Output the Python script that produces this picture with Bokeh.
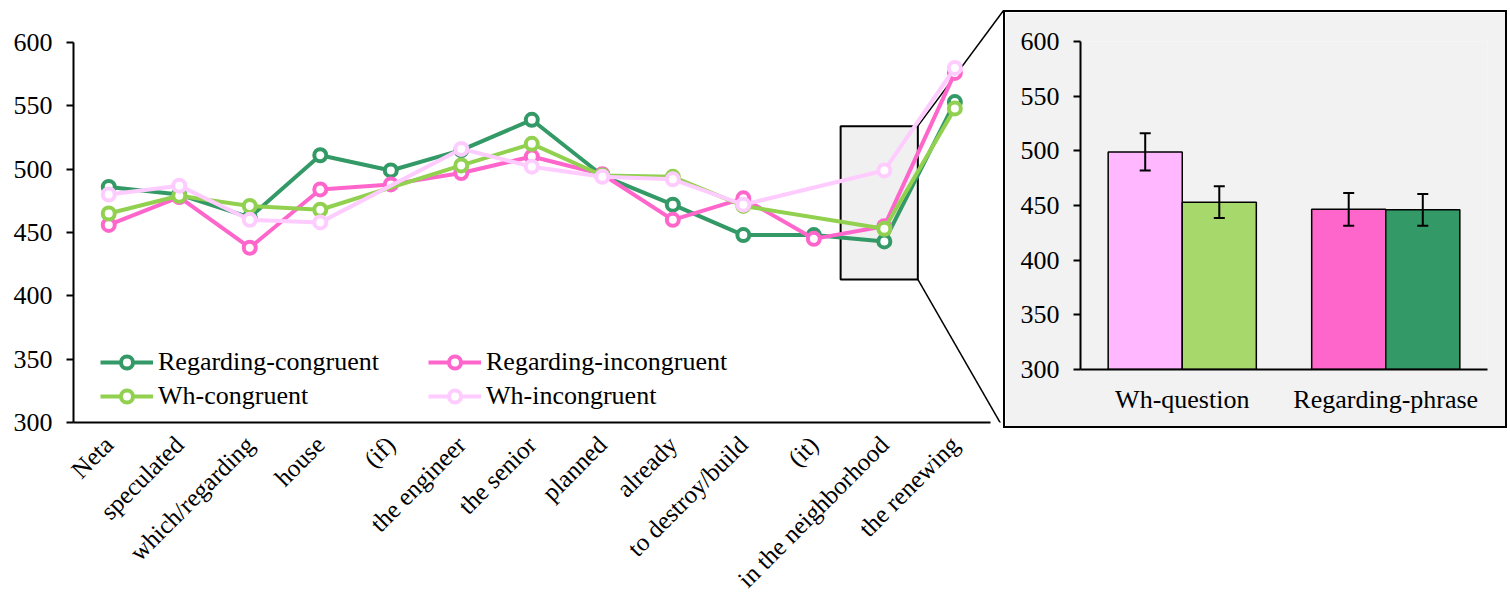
import math

from bokeh.embed import file_html
from bokeh.layouts import column, row
from bokeh.models import (ColumnDataSource, FactorRange, FixedTicker, Legend,
                          LegendItem, Range1d, Spacer, TeeHead, Whisker)
from bokeh.plotting import figure
from bokeh.resources import INLINE
from bokeh.transform import dodge

FONT = "Liberation Serif"

# ---- word-by-word reading times (ms) ----
words = ["Neta", "speculated", "which/regarding", "house", "(if)", "the engineer",
         "the senior", "planned", "already", "to destroy/build", "(it)",
         "in the neighborhood", "the renewing"]

regarding_congruent = [486, 480, 462, 511, 499, 515, 539, 495, 472, 448, 448, 443, 553]
regarding_incongruent = [456, 478, 438, 484, 488, 497, 510, 496, 460, 477, 445, 455, 576]
# Wh sentences have no "(if)" / "(it)" region
wh_congruent = [465, 479, 471, 468, None, 503, 520, 495, 494, 471, None, 453, 548]
wh_incongruent = [480, 487, 460, 458, None, 516, 502, 494, 492, 472, None, 499, 580]

series_names = ["Regarding-congruent", "Regarding-incongruent", "Wh-congruent", "Wh-incongruent"]
series_values = [regarding_congruent, regarding_incongruent, wh_congruent, wh_incongruent]
series_colors = ["#339966", "#ff66cc", "#92d050", "#ffccff"]

# ---- spillover region summary (inset) ----
groups = ["Wh-question", "Regarding-phrase"]
incongruent_mean = [499, 446.5]
incongruent_err = [17, 15]
congruent_mean = [453, 446]
congruent_err = [14.5, 14.5]
incongruent_colors = ["#ffb7ff", "#ff66cc"]
congruent_colors = ["#a6d86c", "#339966"]

# highlighted region in the main panel
zoom_word = "in the neighborhood"
zoom_lo, zoom_hi = 413, 534

# ---------------- main line chart ----------------
X_END = 12.69
Y_TOP = 633.2
main = figure(frame_width=930, frame_height=422,
              x_range=Range1d(-0.5, X_END), y_range=Range1d(300, Y_TOP),
              min_border_left=73, min_border_right=0, min_border_top=0,
              min_border_bottom=170, output_backend="svg", toolbar_location=None)
main.grid.visible = False
main.outline_line_color = None
main.background_fill_color = "white"

zi = words.index(zoom_word)
main.quad(left=zi - 0.62, right=zi + 0.475, bottom=zoom_lo, top=zoom_hi,
          fill_color="#f0f0f0", line_color="black", line_width=2)
# connectors towards the inset
main.segment(x0=[zi + 0.475, zi + 0.475], y0=[zoom_hi, zoom_lo],
             x1=[X_END, X_END], y1=[625.3, 295.3],
             line_color="black", line_width=1.5)

renderers = {}
for name, vals, col in zip(series_names, series_values, series_colors):
    xs = [i for i, v in enumerate(vals) if v is not None]
    ys = [v for v in vals if v is not None]
    src = ColumnDataSource(dict(x=xs, y=ys))
    ln = main.line("x", "y", source=src, line_color=col, line_width=4)
    sc = main.scatter("x", "y", source=src, marker="circle", size=12,
                      fill_color="white", line_color=col, line_width=4)
    renderers[name] = [ln, sc]

yax = main.yaxis[0]
yax.ticker = FixedTicker(ticks=[300, 350, 400, 450, 500, 550, 600])
yax.bounds = (300, 600)
yax.major_tick_out = 7
yax.major_tick_in = 0
yax.minor_tick_line_color = None
yax.axis_line_width = 2
yax.major_tick_line_width = 2
yax.major_label_standoff = 14
yax.major_label_text_font = FONT
yax.major_label_text_font_size = "26px"
yax.major_label_text_color = "black"

xax = main.xaxis[0]
xax.ticker = FixedTicker(ticks=list(range(len(words))))
xax.major_label_overrides = {i: w for i, w in enumerate(words)}
xax.major_label_orientation = math.pi / 4
xax.bounds = (-0.5, len(words) - 0.5)
xax.major_tick_line_color = None
xax.minor_tick_line_color = None
xax.axis_line_width = 2
xax.major_label_standoff = 12
xax.major_label_text_font = FONT
xax.major_label_text_font_size = "25px"
xax.major_label_text_color = "black"

for cols, loc in (((0, 2), (27, 11)), ((1, 3), (355, 11))):
    items = [LegendItem(label=series_names[k], renderers=renderers[series_names[k]]) for k in cols]
    leg = Legend(items=items, location=loc)
    leg.padding = 0
    leg.margin = 0
    leg.spacing = 4
    leg.glyph_width = 53
    leg.glyph_height = 30
    leg.label_height = 30
    leg.label_standoff = 5
    leg.border_line_color = None
    leg.background_fill_alpha = 0
    leg.label_text_font = FONT
    leg.label_text_font_size = "26px"
    leg.label_text_color = "black"
    main.add_layout(leg)

# ---------------- inset bar chart ----------------
inset = figure(frame_width=403, frame_height=324,
               x_range=FactorRange(*groups), y_range=Range1d(300, 600),
               min_border_left=75, min_border_right=22, min_border_top=29,
               min_border_bottom=61, output_backend="svg", toolbar_location=None,
               background_fill_color="#f2f2f2", border_fill_color="#f2f2f2")
inset.styles = {"border": "2px solid black"}
inset.grid.visible = False
inset.outline_line_color = None

BAR_W = 0.364
OFF = BAR_W / 2
bar_src = ColumnDataSource(dict(
    group=groups,
    inc=incongruent_mean, inc_lo=[m - e for m, e in zip(incongruent_mean, incongruent_err)],
    inc_hi=[m + e for m, e in zip(incongruent_mean, incongruent_err)],
    inc_col=incongruent_colors,
    con=congruent_mean, con_lo=[m - e for m, e in zip(congruent_mean, congruent_err)],
    con_hi=[m + e for m, e in zip(congruent_mean, congruent_err)],
    con_col=congruent_colors,
))
inset.vbar(x=dodge("group", -OFF, range=inset.x_range), top="inc", bottom=300,
           width=BAR_W, source=bar_src, fill_color="inc_col", line_color="black", line_width=1.5)
inset.vbar(x=dodge("group", OFF, range=inset.x_range), top="con", bottom=300,
           width=BAR_W, source=bar_src, fill_color="con_col", line_color="black", line_width=1.5)
for off, lo, hi in ((-OFF, "inc_lo", "inc_hi"), (OFF, "con_lo", "con_hi")):
    inset.add_layout(Whisker(source=bar_src, base=dodge("group", off, range=inset.x_range),
                             lower=lo, upper=hi, line_width=2, line_color="black",
                             level="annotation",
                             upper_head=TeeHead(size=11, line_width=2, line_color="black"),
                             lower_head=TeeHead(size=11, line_width=2, line_color="black")))

iy = inset.yaxis[0]
iy.ticker = FixedTicker(ticks=[300, 350, 400, 450, 500, 550, 600])
iy.major_tick_out = 7
iy.major_tick_in = 0
iy.minor_tick_line_color = None
iy.axis_line_width = 2
iy.major_tick_line_width = 2
iy.major_label_standoff = 14
iy.major_label_text_font = FONT
iy.major_label_text_font_size = "26px"
iy.major_label_text_color = "black"

ix = inset.xaxis[0]
ix.major_tick_line_color = None
ix.minor_tick_line_color = None
ix.axis_line_width = 2
ix.major_label_standoff = 9
ix.major_label_text_font = FONT
ix.major_label_text_font_size = "26px"
ix.major_label_text_color = "black"

layout = row(main, column(Spacer(height=10), inset))

open("out.html", "w").write(file_html(layout, INLINE))
